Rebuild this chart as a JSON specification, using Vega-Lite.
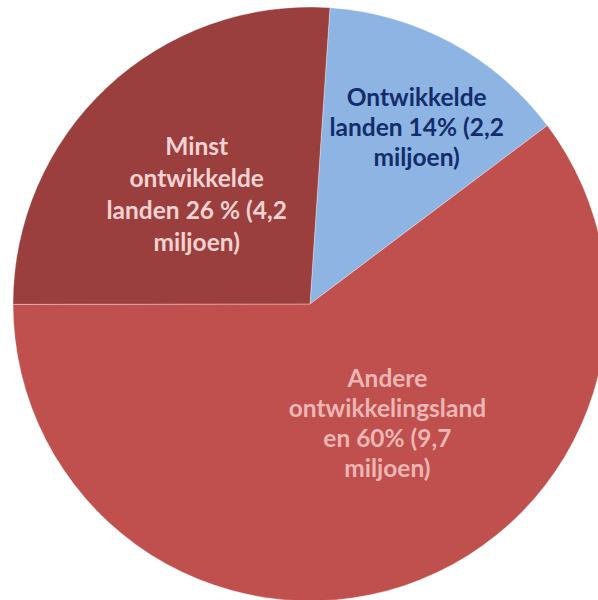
{
  "$schema": "https://vega.github.io/schema/vega-lite/v6.json",
  "autosize": "none",
  "width": 576,
  "height": 596,
  "padding": {"left": 22, "top": 6, "right": 0, "bottom": 0},
  "background": "#ffffff",
  "view": {"stroke": null},
  "data": {
    "values": [
      {"i": 1, "categorie": "Ontwikkelde landen", "miljoen": 2.2, "label": "Ontwikkelde\nlanden 14% (2,2\nmiljoen)"},
      {"i": 2, "categorie": "Andere ontwikkelingslanden", "miljoen": 9.7, "label": "Andere\nontwikkelingsland\nen 60% (9,7\nmiljoen)"},
      {"i": 3, "categorie": "Minst ontwikkelde landen", "miljoen": 4.2, "label": "Minst\nontwikkelde\nlanden 26 % (4,2\nmiljoen)"}
    ]
  },
  "encoding": {
    "theta": {"field": "miljoen", "type": "quantitative", "stack": true, "scale": {"range": [0.0672, 6.3504]}},
    "order": {"field": "i", "type": "quantitative"}
  },
  "layer": [
    {
      "mark": {"type": "arc", "outerRadius": 297, "stroke": "#ffffff", "strokeWidth": 1, "strokeOpacity": 0.35},
      "encoding": {
        "color": {
          "field": "categorie",
          "type": "nominal",
          "scale": {
            "domain": ["Ontwikkelde landen", "Andere ontwikkelingslanden", "Minst ontwikkelde landen"],
            "range": ["#8EB4E3", "#C0504D", "#9B3F3E"]
          },
          "legend": null
        }
      }
    },
    {
      "mark": {"type": "text", "radius": 205, "dx": 9, "dy": -25, "align": "center", "baseline": "middle", "lineBreak": "\n", "lineHeight": 30, "font": "Lato", "fontWeight": "bold", "fontSize": 24.5, "fill": "#132D6B"},
      "encoding": {"text": {"condition": {"test": "datum.i == 1", "field": "label"}, "value": ""}}
    },
    {
      "mark": {"type": "text", "radius": 143, "dx": 32, "dy": -60, "align": "center", "baseline": "middle", "lineBreak": "\n", "lineHeight": 30, "font": "Lato", "fontWeight": "bold", "fontSize": 24.5, "fill": "#EBB6B4"},
      "encoding": {"text": {"condition": {"test": "datum.i == 2", "field": "label"}, "value": ""}}
    },
    {
      "mark": {"type": "text", "radius": 157, "dx": -6, "dy": -41, "align": "center", "baseline": "middle", "lineBreak": "\n", "lineHeight": 32, "font": "Lato", "fontWeight": "bold", "fontSize": 24.5, "fill": "#F2D3D2"},
      "encoding": {"text": {"condition": {"test": "datum.i == 3", "field": "label"}, "value": ""}}
    }
  ]
}
